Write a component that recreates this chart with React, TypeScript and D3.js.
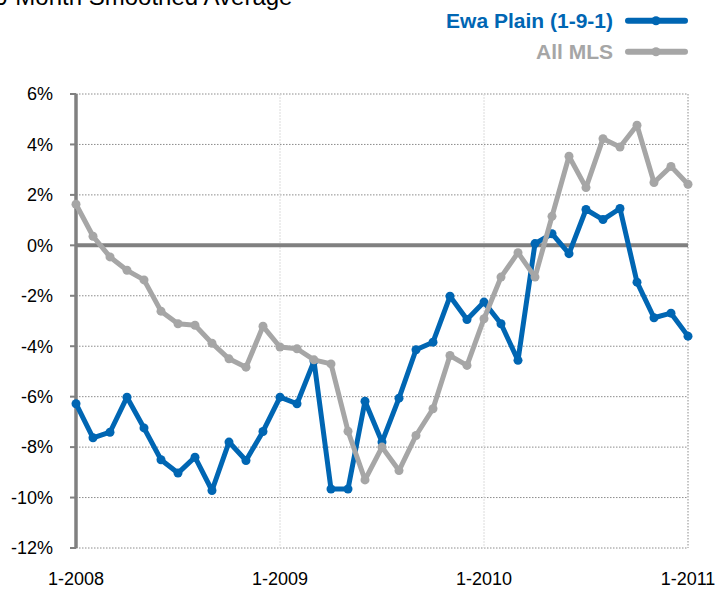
import React from "react";
import * as d3 from "d3";

const monthIndex = d3.range(37);
const ewaPlain = [-6.28,-7.63,-7.41,-6.02,-7.24,-8.5,-9.03,-8.4,-9.72,-7.8,-8.53,-7.38,-6.02,-6.28,-4.59,-9.66,-9.66,-6.18,-7.8,-6.06,-4.14,-3.84,-2.02,-2.94,-2.25,-3.11,-4.56,0.07,0.46,-0.33,1.42,1.02,1.46,-1.46,-2.87,-2.69,-3.6];
const allMls = [1.63,0.36,-0.46,-0.99,-1.37,-2.61,-3.11,-3.17,-3.88,-4.5,-4.83,-3.21,-4.03,-4.1,-4.54,-4.7,-7.37,-9.3,-8.0,-8.93,-7.54,-6.48,-4.37,-4.76,-2.91,-1.26,-0.29,-1.26,1.15,3.53,2.29,4.23,3.9,4.76,2.49,3.13,2.42];
const yTicks = [6,4,2,0,-2,-4,-6,-8,-10,-12];
const xTickIdx = [0,12,24,36];
const xTickLabels = ["1-2008","1-2009","1-2010","1-2011"];

const FONT = "'Liberation Sans', Arial, sans-serif";
const BLUE = "#0066b3";
const GRAY = "#a6a6a6";
const AXIS = "#808080";

export default function App() {
  const x = d3.scaleLinear().domain([0, 36]).range([76, 688]);
  const y = d3.scaleLinear().domain([-12, 6]).range([548, 94]);
  const line = d3.line<number>().x((_, i) => x(i)).y((d) => y(d));

  const series = [
    { name: "Ewa Plain (1-9-1)", data: ewaPlain, color: BLUE },
    { name: "All MLS", data: allMls, color: GRAY },
  ];

  return (
    <svg width={715} height={589} style={{ position: "absolute", left: 0, top: 0 }} fontFamily={FONT}>
      <rect width={715} height={589} fill="#fff" />
      <text x={-6} y={5} fontSize={24} fill="#000">6-Month Smoothed Average</text>

      {yTicks.filter((t) => t !== 0).map((t) => (
        <line key={t} x1={x(0)} x2={x(36)} y1={y(t)} y2={y(t)} stroke="#8c8c8c" strokeWidth={1} strokeDasharray="1.5,1.5" />
      ))}
      {[12, 24].map((i) => (
        <line key={i} x1={x(i)} x2={x(i)} y1={y(6)} y2={y(-12)} stroke="#dcdcdc" strokeWidth={1} strokeDasharray="2,1" />
      ))}
      <line x1={x(36)} x2={x(36)} y1={y(6)} y2={y(-12)} stroke="#8c8c8c" strokeWidth={1} strokeDasharray="1.5,1.5" />
      <line x1={x(0)} x2={x(36)} y1={y(0)} y2={y(0)} stroke={AXIS} strokeWidth={4} />
      <line x1={x(0)} x2={x(0)} y1={y(6)} y2={y(-12)} stroke={AXIS} strokeWidth={3.5} />
      {yTicks.map((t) => (
        <g key={t}>
          <line x1={70} x2={x(0)} y1={y(t)} y2={y(t)} stroke={AXIS} strokeWidth={2} />
          <text x={53} y={y(t)} dy="0.35em" textAnchor="end" fontSize={18} fill="#000">{t}%</text>
        </g>
      ))}
      {xTickIdx.map((i, k) => (
        <text key={i} x={x(i)} y={585} textAnchor="middle" fontSize={18} fill="#000">{xTickLabels[k]}</text>
      ))}

      {series.map((s) => (
        <g key={s.name}>
          <path d={line(s.data) || ""} fill="none" stroke={s.color} strokeWidth={5} strokeLinejoin="round" />
          {s.data.map((d, i) => (
            <circle key={i} cx={x(monthIndex[i])} cy={y(d)} r={4.5} fill={s.color} />
          ))}
        </g>
      ))}

      {series.map((s, k) => {
        const ly = 20.7 + k * 31;
        return (
          <g key={s.name}>
            <text x={613} y={ly + 7.5} textAnchor="end" fontSize={21} fontWeight="bold" fill={s.color}>{s.name}</text>
            <line x1={628} x2={685} y1={ly} y2={ly} stroke={s.color} strokeWidth={6} strokeLinecap="round" />
            <circle cx={656} cy={ly} r={4.5} fill={s.color} />
          </g>
        );
      })}
    </svg>
  );
}
